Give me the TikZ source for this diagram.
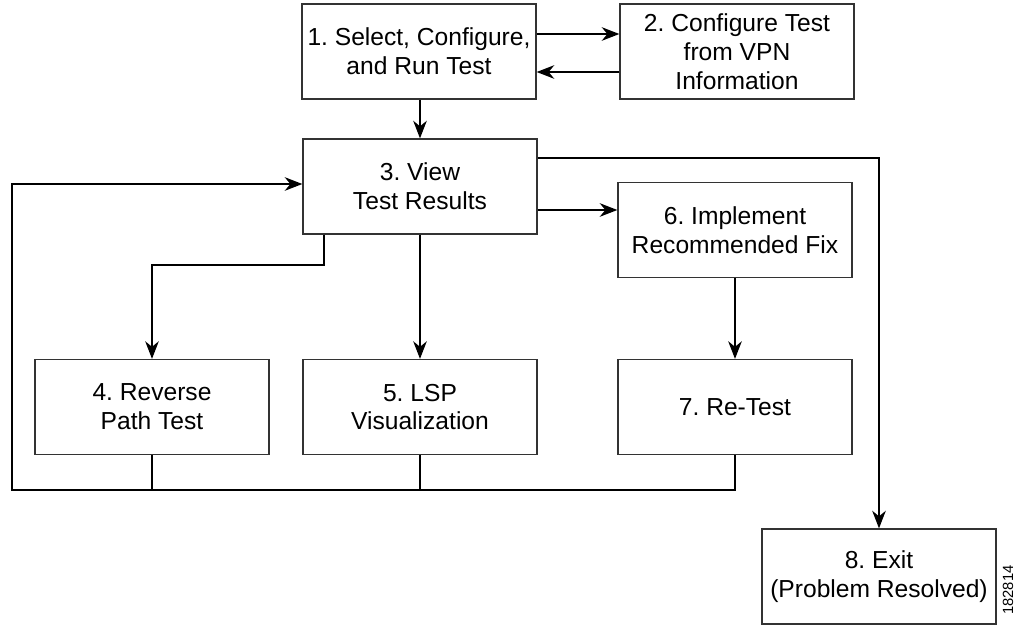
\documentclass[tikz,border=0pt]{standalone}
\usepackage{fontspec}
\setmainfont{Liberation Sans}
\usetikzlibrary{arrows.meta}
\frenchspacing

\begin{document}
\begin{tikzpicture}[x=0.025cm,y=-0.025cm,
  box/.style={draw=black!80,line width=0.9pt,minimum width=5.85cm,minimum height=2.375cm,
    align=center,inner sep=0pt,font=\fontsize{17.5pt}{20.5pt}\selectfont},
  arr/.style={line width=0.9pt,-{Stealth[length=4.4mm,width=3.4mm,inset=1.4mm]}},
  ln/.style={line width=0.9pt}]
\useasboundingbox (0,0) rectangle (1021,625);

\node[box] (b1) at (419,51.5) {1. Select, Configure,\\and Run Test};
\node[box] (b2) at (737,51.5) {2. Configure Test\\from VPN\\Information};
\node[box] (b3) at (420,186.5) {3. View\\Test Results};
\node[box] (b6) at (735,230) {6. Implement\\Recommended Fix};
\node[box] (b4) at (152,407) {4. Reverse\\Path Test};
\node[box] (b5) at (420,407) {5. LSP\\Visualization};
\node[box] (b7) at (735,407) {7. Re-Test};
\node[box] (b8) at (879,576.5) {8. Exit\\(Problem Resolved)};

\node[rotate=90,font=\fontsize{10.5pt}{11pt}\selectfont] (fig) at (1008,590) {182814};

\coordinate (split) at (324,265);
\coordinate (loop) at (12,490);

\draw[arr] (b1.east |- 0,34) -- (b2.west |- 0,34);
\draw[arr] (b2.west |- 0,72) -- (b1.east |- 0,72);
\draw[arr] (b1.south -| b3.north) -- (b3.north);

\draw[arr] (b3.south -| split) -- (split) -| (b4.north);
\draw[arr] (b3.south) -- (b5.north);
\draw[arr] (b3.east |- 0,210) -- (b6.west |- 0,210);
\draw[arr] (b3.east |- 0,158) -| (b8.north);
\draw[arr] (b6.south) -- (b7.north);

\draw[ln] (b4.south) -- (b4.south |- loop);
\draw[ln] (b5.south) -- (b5.south |- loop);
\draw[arr] (b7.south) |- (loop) |- (b3.west |- 0,184);
\end{tikzpicture}
\end{document}
